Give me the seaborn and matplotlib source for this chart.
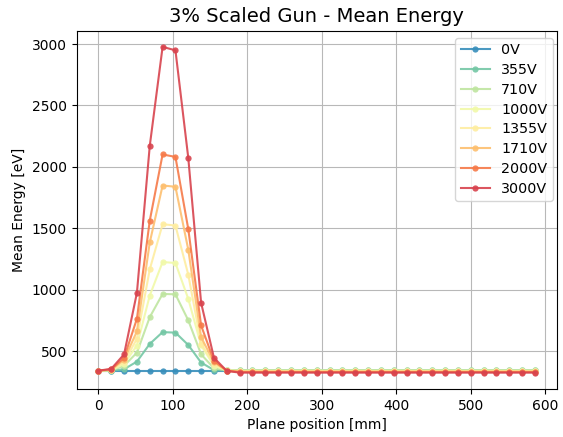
import pandas as pd
import matplotlib
matplotlib.use("Agg")
import matplotlib.pyplot as plt
import seaborn as sns

# Plane positions [mm]
positions = [0, 17.25, 34.5, 51.75, 69, 86.25, 103.5, 120.75, 138, 155.25,
             172.5, 189.75, 207, 224.25, 241.5, 258.75, 276, 293.25, 310.5,
             327.75, 345, 362.25, 379.5, 396.75, 414, 431.25, 448.5, 465.75,
             483, 500.25, 517.5, 534.75, 552, 569.25, 586.5]

voltages = ["0V", "355V", "710V", "1000V", "1355V", "1710V", "2000V", "3000V"]

# Mean energy [eV] per gun voltage (peak region, then flat tail)
e_0v = [340] * 35
e_355v = [340, 340, 352, 414, 558, 654, 650, 549, 406, 345, 343] + [345] * 24
e_710v = [340, 342, 380, 487, 776, 965, 962, 750, 473, 360, 343] + [343] * 24
e_1000v = [340, 344, 395, 545, 952, 1225, 1217, 925, 546, 380, 342] + [340] * 24
e_1355v = [340, 346, 410, 600, 1165, 1533, 1522, 1122, 560, 395, 341] + [337] * 24
e_1710v = [340, 348, 430, 660, 1384, 1848, 1838, 1325, 612, 410, 340] + [333] * 24
e_2000v = [340, 350, 445, 763, 1562, 2101, 2081, 1493, 708, 420, 340] + [329] * 24
e_3000v = [340, 355, 473, 974, 2171, 2977, 2949, 2073, 892, 445, 338] + [324] * 24

series = [e_0v, e_355v, e_710v, e_1000v, e_1355v, e_1710v, e_2000v, e_3000v]

rows = []
for v, vals in zip(voltages, series):
    for x, y in zip(positions, vals):
        rows.append({"Plane position": x, "Mean Energy": y, "Voltage": v})
df = pd.DataFrame(rows)

fig, ax = plt.subplots(figsize=(5.63, 4.37), dpi=100)
sns.lineplot(data=df, x="Plane position", y="Mean Energy", hue="Voltage",
             hue_order=voltages, palette="Spectral_r", marker="o",
             markersize=4.5, markeredgewidth=0, linewidth=1.5, alpha=0.9, ax=ax)

ax.grid(True, color="#b8b8b8", linewidth=0.8)
ax.set_axisbelow(True)
ax.set_title("3% Scaled Gun - Mean Energy", fontsize=14)
ax.set_xlabel("Plane position [mm]")
ax.set_ylabel("Mean Energy [eV]")
ax.legend(loc="upper right", fontsize=10.3, labelspacing=0.4,
          bbox_to_anchor=(0.992, 0.98), borderaxespad=0)

plt.subplots_adjust(left=0.136, right=0.989, top=0.93, bottom=0.11)
plt.savefig("out.png", dpi=100)
